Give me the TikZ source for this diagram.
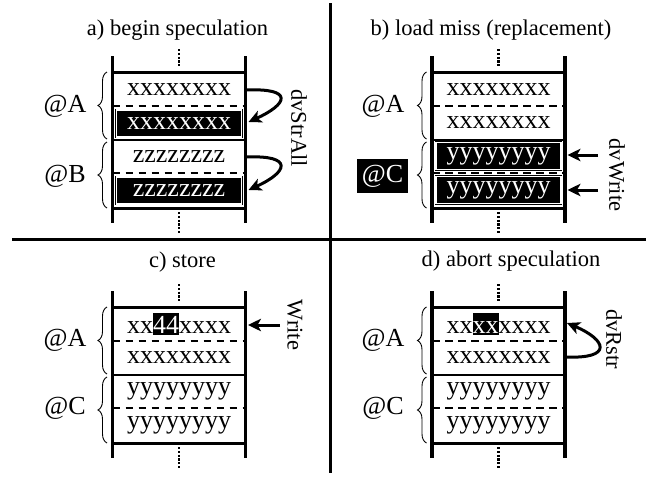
\documentclass[tikz,border=0pt]{standalone}
\usepackage{fontspec}
\setmainfont{Liberation Serif}
\usetikzlibrary{arrows.meta,decorations.pathreplacing}
\newcommand{\hlbox}[1]{{\setlength{\fboxsep}{0pt}\colorbox{black}{\textcolor{white}{\rule[-1.5pt]{0pt}{22.5pt}#1}}}}
\newcommand{\blockframe}{%
  \draw[vline] (112.5,56) -- (112.5,223);
  \draw[vline] (245.5,56) -- (245.5,223);
  \draw[hline] (112.5,72.5) -- (245.5,72.5);
  \draw[hline] (112.5,140) -- (245.5,140);
  \draw[hline] (112.5,208.5) -- (245.5,208.5);
  \draw[dline] (112.5,106) -- (245.5,106);
  \draw[dline] (112.5,173) -- (245.5,173);
  \draw[dotline] (179,49) -- (179,67);
  \draw[dotline] (179,212) -- (179,234);
}
\tikzset{
  vline/.style={line width=3.2pt},
  hline/.style={line width=2.6pt},
  dline/.style={line width=2pt, dash pattern=on 7.5pt off 5.5pt},
  dotline/.style={line width=2.8pt, dash pattern=on 2.2pt off 1.6pt},
  sep/.style={line width=3.2pt},
  cell/.style={font=\fontsize{26}{30}\selectfont, inner sep=0pt},
  blackrow/.style={cell, fill=black, text=white, draw=black, double=white,
    double distance=1.3pt, line width=0.7pt, minimum width=125pt, minimum height=27pt},
  addr/.style={font=\fontsize{26}{30}\selectfont, inner sep=0pt},
  addrbox/.style={addr, fill=black, text=white, minimum width=51pt, minimum height=34pt},
  title/.style={font=\fontsize{22.5}{27}\selectfont, inner sep=0pt},
  side/.style={font=\fontsize{22.5}{27}\selectfont, inner sep=0pt, rotate=-90},
  brc/.style={decorate, decoration={brace, amplitude=9pt}, line width=0.9pt},
  arr/.style={line width=3pt, -{Stealth[length=13pt,width=12.5pt,inset=3.5pt]}},
}
\begin{document}
\begin{tikzpicture}[x=1pt,y=-1pt]
\useasboundingbox (0,0) rectangle (654,477);
% separators
\draw[sep] (12,239.5) -- (646,239.5);
\draw[sep] (330.5,3) -- (330.5,473);
% frames
\blockframe
\begin{scope}[shift={(319.5,0)}]\blockframe\end{scope}
\begin{scope}[shift={(0,235)}]\blockframe\end{scope}
\begin{scope}[shift={(319.5,235)}]\blockframe\end{scope}

% ---------- panel a ----------
\node[title] (ta) at (177.5,30) {a) begin speculation};
\node[cell] (a1) at (179,89.3) {xxxxxxxx};
\node[blackrow] (a2) at (179,123.5) {xxxxxxxx};
\node[cell] (a3) at (179,157) {zzzzzzzz};
\node[blackrow] (a4) at (179,190.5) {zzzzzzzz};
\node[addr] (aA) at (65,106) {@A};
\node[addr] (aB) at (65,176) {@B};
\draw[brc] (107,139) -- (107,72);
\draw[brc] (107,208) -- (107,142);
\coordinate (as1) at (246.5,90);
\coordinate (ae1) at (248.5,122);
\coordinate (as2) at (246.5,157);
\coordinate (ae2) at (248.5,190);
\draw[arr] (as1) .. controls (294,88) and (288,104) .. (ae1);
\draw[arr] (as2) .. controls (294,155) and (288,172) .. (ae2);
\node[side] (la) at (299,128) {dvStrAll};

% ---------- panel b ----------
\node[title] (tb) at (491,30) {b) load miss (replacement)};
\node[cell] (b1) at (498.5,89.3) {xxxxxxxx};
\node[cell] (b2) at (498.5,123) {xxxxxxxx};
\node[blackrow] (b3) at (498.5,156) {yyyyyyyy};
\node[blackrow] (b4) at (498.5,190.3) {yyyyyyyy};
\node[addr] (bA) at (383,106) {@A};
\node[addrbox] (bC) at (382.5,176) {@C};
\draw[brc] (426.5,139) -- (426.5,72);
\draw[brc] (426.5,208) -- (426.5,142);
\coordinate (bs1) at (598,155);
\coordinate (be1) at (567.5,155);
\coordinate (bs2) at (598,190);
\coordinate (be2) at (567.5,190);
\draw[arr] (bs1) -- (be1);
\draw[arr] (bs2) -- (be2);
\node[side] (lb) at (617,175) {dvWrite};

% ---------- panel c ----------
\node[title] (tc) at (182.5,262) {c) store};
\node[cell] (c1) at (179,324) {xx\hlbox{44}xxxx};
\node[cell] (c2) at (179,357.7) {xxxxxxxx};
\node[cell] (c3) at (179,391.5) {yyyyyyyy};
\node[cell] (c4) at (179,425) {yyyyyyyy};
\node[addr] (cA) at (65,340) {@A};
\node[addr] (cC) at (65,408) {@C};
\draw[brc] (107,374) -- (107,307);
\draw[brc] (107,443) -- (107,377);
\coordinate (cs1) at (280,325);
\coordinate (ce1) at (248,325);
\draw[arr] (cs1) -- (ce1);
\node[side] (lc) at (295,325) {Write};

% ---------- panel d ----------
\node[title] (td) at (511,261) {d) abort speculation};
\node[cell] (d1) at (498.5,324) {xx\hlbox{xx}xxxx};
\node[cell] (d2) at (498.5,357.7) {xxxxxxxx};
\node[cell] (d3) at (498.5,391.5) {yyyyyyyy};
\node[cell] (d4) at (498.5,425) {yyyyyyyy};
\node[addr] (dA) at (383,340) {@A};
\node[addr] (dC) at (383,408) {@C};
\draw[brc] (426.5,374) -- (426.5,307);
\draw[brc] (426.5,443) -- (426.5,377);
\coordinate (ds1) at (566,357);
\coordinate (de1) at (567,323);
\draw[arr] (ds1) .. controls (613,359) and (607,340) .. (de1);
\node[side] (ld) at (614,339) {dvRstr};
\end{tikzpicture}
\end{document}
